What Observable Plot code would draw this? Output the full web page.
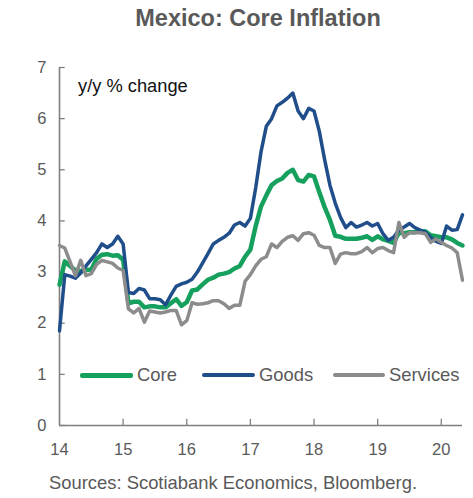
<!DOCTYPE html>
<html>
<head>
<meta charset="utf-8">
<script src="https://cdn.jsdelivr.net/npm/d3@7"></script>
<script src="https://cdn.jsdelivr.net/npm/@observablehq/plot@0.6"></script>
<style>
  html, body { margin: 0; padding: 0; background: #fff; }
  body { width: 473px; height: 498px; position: relative; overflow: hidden; font-family: "Liberation Sans", Arial, sans-serif; }
  #title { position: absolute; left: 0; top: 7px; width: 516px; text-align: center; font-size: 23.5px; line-height: 23.5px; font-weight: bold; color: #595959; }
  #chart { position: absolute; left: 0; top: 40px; }
  #unit { position: absolute; left: 78px; top: 77px; font-size: 18.3px; line-height: 18.3px; color: #111; }
  #caption { position: absolute; left: 49px; top: 473px; font-size: 18.4px; line-height: 20px; color: #595959; white-space: nowrap; }
  .leg { position: absolute; top: 366px; height: 18px; display: flex; align-items: center; font-size: 18.4px; color: #595959; }
  .sw { height: 4px; border-radius: 2px; margin-right: 4px; }
</style>
</head>
<body>
<div id="title">Mexico: Core Inflation</div>
<div id="chart"></div>
<div id="unit">y/y % change</div>
<div id="legend"></div>
<div id="caption">Sources: Scotiabank Economics, Bloomberg.</div>
<script>
// Monthly y/y % change, first point at the "14" tick, last at ~Apr/May 2020
const core = [2.75,3.21,3.12,3.03,3.02,3.04,3.05,3.26,3.34,3.35,3.32,3.33,3.24,
  2.39,2.42,2.42,2.31,2.33,2.33,2.31,2.31,2.39,2.47,2.34,2.41,
  2.64,2.66,2.76,2.85,2.89,2.95,2.97,3.0,3.07,3.12,3.3,3.44,
  3.9,4.28,4.5,4.7,4.78,4.83,4.94,5.0,4.8,4.77,4.9,4.87,
  4.56,4.27,4.02,3.71,3.69,3.65,3.65,3.65,3.67,3.7,3.63,3.7,
  3.64,3.61,3.57,3.77,3.76,3.78,3.78,3.8,3.8,3.72,3.7,3.68,
  3.68,3.64,3.57,3.52];
const goods = [1.85,2.95,2.92,2.88,2.98,3.12,3.25,3.38,3.55,3.48,3.55,3.70,3.55,
  2.6,2.58,2.68,2.65,2.48,2.48,2.46,2.36,2.55,2.72,2.77,2.8,
  2.86,3.0,3.18,3.36,3.55,3.62,3.68,3.76,3.92,3.97,3.9,4.05,
  4.65,5.35,5.85,6.0,6.25,6.32,6.4,6.5,6.15,6.0,6.2,6.15,
  5.75,5.2,4.7,4.35,4.07,3.87,3.97,3.88,3.92,3.97,3.9,3.95,
  3.75,3.62,3.68,3.82,3.88,3.95,3.87,3.82,3.78,3.68,3.6,3.56,
  3.9,3.82,3.83,4.12];
const services = [3.52,3.47,3.2,2.93,3.23,2.93,2.97,3.15,3.23,3.2,3.17,3.08,3.03,
  2.28,2.2,2.29,2.02,2.24,2.22,2.2,2.22,2.25,2.25,1.97,2.05,
  2.4,2.37,2.38,2.4,2.44,2.44,2.38,2.29,2.35,2.35,2.82,2.95,
  3.12,3.25,3.3,3.55,3.48,3.6,3.68,3.71,3.62,3.75,3.77,3.72,
  3.52,3.48,3.48,3.17,3.35,3.38,3.36,3.36,3.4,3.48,3.38,3.46,
  3.48,3.42,3.38,3.97,3.68,3.77,3.77,3.77,3.75,3.58,3.65,3.58,
  3.52,3.47,3.38,2.84];
const seriesNames = ["Core", "Goods", "Services"];
const seriesColors = ["#16a05d", "#1f4e8a", "#8c8c8c"];
const seriesWidths = [4.5, 3.5, 3.5];
const xTicks = [14, 15, 16, 17, 18, 19, 20];
const yTicks = [0, 1, 2, 3, 4, 5, 6, 7];
const startYear = 14;

const allSeries = [core, goods, services];
const rows = [];
allSeries.forEach((arr, s) => arr.forEach((v, i) => rows.push({series: seriesNames[s], t: startYear + i / 12, v})));
const xMax = startYear + (core.length - 1) / 12;
const axisColor = "#7f7f7f";

const chart = Plot.plot({
  width: 473,
  height: 430,
  marginLeft: 59,
  marginRight: 11,
  marginTop: 27,
  marginBottom: 45,
  style: {fontSize: "16.5px", fontFamily: "Liberation Sans, Arial, sans-serif", color: "#595959", background: "transparent"},
  x: {domain: [startYear, xMax], ticks: xTicks, tickFormat: d => String(d), tickSize: 0, tickPadding: 18, label: null},
  y: {domain: [0, 7], ticks: yTicks, tickFormat: d => String(d), tickSize: 0, tickPadding: 13, label: null},
  marks: [
    Plot.ruleX([startYear], {y1: 0, y2: 7, stroke: axisColor, strokeWidth: 1.6}),
    Plot.ruleY([0], {x1: startYear, x2: xMax, stroke: axisColor, strokeWidth: 1.6}),
    Plot.ruleY(yTicks, {y: d => d, x1: startYear, x2: startYear + 0.09, stroke: axisColor, strokeWidth: 1.3}),
    Plot.ruleX(xTicks.slice(1), {x: d => d, y1: 0, y2: 0.12, stroke: axisColor, strokeWidth: 1.3}),
    ...seriesNames.map((name, s) => Plot.line(rows.filter(r => r.series === name), {
      x: "t", y: "v", stroke: seriesColors[s], strokeWidth: seriesWidths[s], strokeLinejoin: "round"
    }))
  ]
});
document.getElementById("chart").appendChild(chart);

// legend
const legendLefts = [80, 202, 333];
const swatchW = [53, 53, 52];
const legend = document.getElementById("legend");
seriesNames.forEach((name, s) => {
  const item = document.createElement("div");
  item.className = "leg";
  item.style.left = legendLefts[s] + "px";
  const sw = document.createElement("span");
  sw.className = "sw";
  sw.style.width = swatchW[s] + "px";
  sw.style.background = seriesColors[s];
  sw.style.height = (s === 0 ? 5 : 4) + "px";
  item.appendChild(sw);
  const tx = document.createElement("span");
  tx.textContent = name;
  item.appendChild(tx);
  legend.appendChild(item);
});
</script>
</body>
</html>
